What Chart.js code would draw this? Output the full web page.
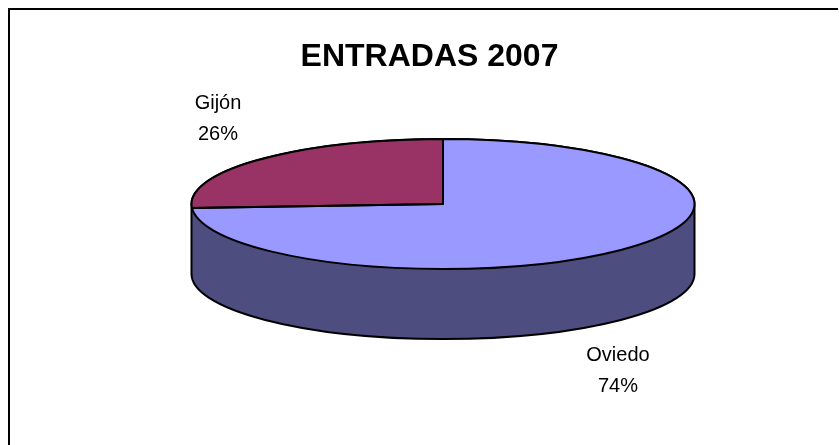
<!DOCTYPE html>
<html>
<head>
<meta charset="utf-8">
<script src="https://cdn.jsdelivr.net/npm/chart.js@4"></script>
<style>
  html, body { margin: 0; padding: 0; background: #fff; overflow: hidden; }
  #frame { position: absolute; left: 8px; top: 8px; right: 1px; bottom: 0; border-left: 2px solid #000; border-top: 2px solid #000; pointer-events: none; }
  canvas { display: block; }
</style>
</head>
<body>
<canvas id="pieChart" width="839" height="445"></canvas>
<div id="frame"></div>
<script>
const titleText = 'ENTRADAS 2007';
const categories = ['Oviedo', 'Gijón'];
const shares = [74, 26];
const topColors = ['#9999ff', '#993366'];
const sideColor = '#4d4d80';

// fake 3D: the pie is squashed around this centre and given a side wall
const pieX = 443;
const pieY = 204;
const pieRadius = 251.5;
const squash = 65 / 251.5;
const pieDepth = 70;
const labelSpots = [[618, 355], [218, 103]];

function ellipsePath(ctx, start, end, dy) {
  ctx.ellipse(pieX, pieY + dy, pieRadius, pieRadius * squash, 0, start, end);
}

const pie3d = {
  id: 'pie3d',
  beforeDatasetsDraw(chart) {
    const ctx = chart.ctx;
    ctx.save();
    ctx.lineWidth = 2;
    ctx.strokeStyle = '#000';
    ctx.fillStyle = sideColor;
    ctx.beginPath();
    ellipsePath(ctx, 0, Math.PI, pieDepth);
    ellipsePath(ctx, Math.PI, 0, 0);
    ctx.closePath();
    ctx.fill();
    ctx.stroke();
    ctx.restore();

    const arc = chart.getDatasetMeta(0).data[0];
    ctx.save();
    ctx.translate(pieX, pieY);
    ctx.scale(1, squash);
    ctx.translate(-arc.x, -arc.y);
  },
  afterDatasetsDraw(chart) {
    const ctx = chart.ctx;
    ctx.restore();

    // outlines go here so the line width is not squashed too
    ctx.save();
    ctx.lineWidth = 2;
    ctx.strokeStyle = '#000';
    ctx.lineJoin = 'round';
    chart.getDatasetMeta(0).data.forEach(arc => {
      ctx.beginPath();
      ctx.moveTo(pieX, pieY);
      ellipsePath(ctx, arc.startAngle, arc.endAngle, 0);
      ctx.closePath();
      ctx.stroke();
    });

    ctx.fillStyle = '#000';
    ctx.font = '20px "Liberation Sans", Arial, sans-serif';
    ctx.textAlign = 'center';
    ctx.textBaseline = 'middle';
    categories.forEach((name, i) => {
      ctx.fillText(name, labelSpots[i][0], labelSpots[i][1]);
      ctx.fillText(shares[i] + '%', labelSpots[i][0], labelSpots[i][1] + 31);
    });
    ctx.restore();
  }
};

const pieChart = new Chart(document.getElementById('pieChart').getContext('2d'), {
  type: 'pie',
  data: {
    labels: categories,
    datasets: [{
      data: shares,
      backgroundColor: topColors,
      borderWidth: 0,
      radius: pieRadius,
      clip: false
    }]
  },
  options: {
    responsive: false,
    animation: false,
    layout: { padding: { left: 20 } },
    plugins: {
      legend: { display: false },
      tooltip: { enabled: false },
      title: {
        display: true,
        text: titleText,
        color: '#000',
        font: { family: '"Liberation Sans", Arial, sans-serif', size: 32, weight: 'bold' },
        padding: { top: 38, bottom: 10 }
      }
    }
  },
  plugins: [pie3d]
});
</script>
</body>
</html>
